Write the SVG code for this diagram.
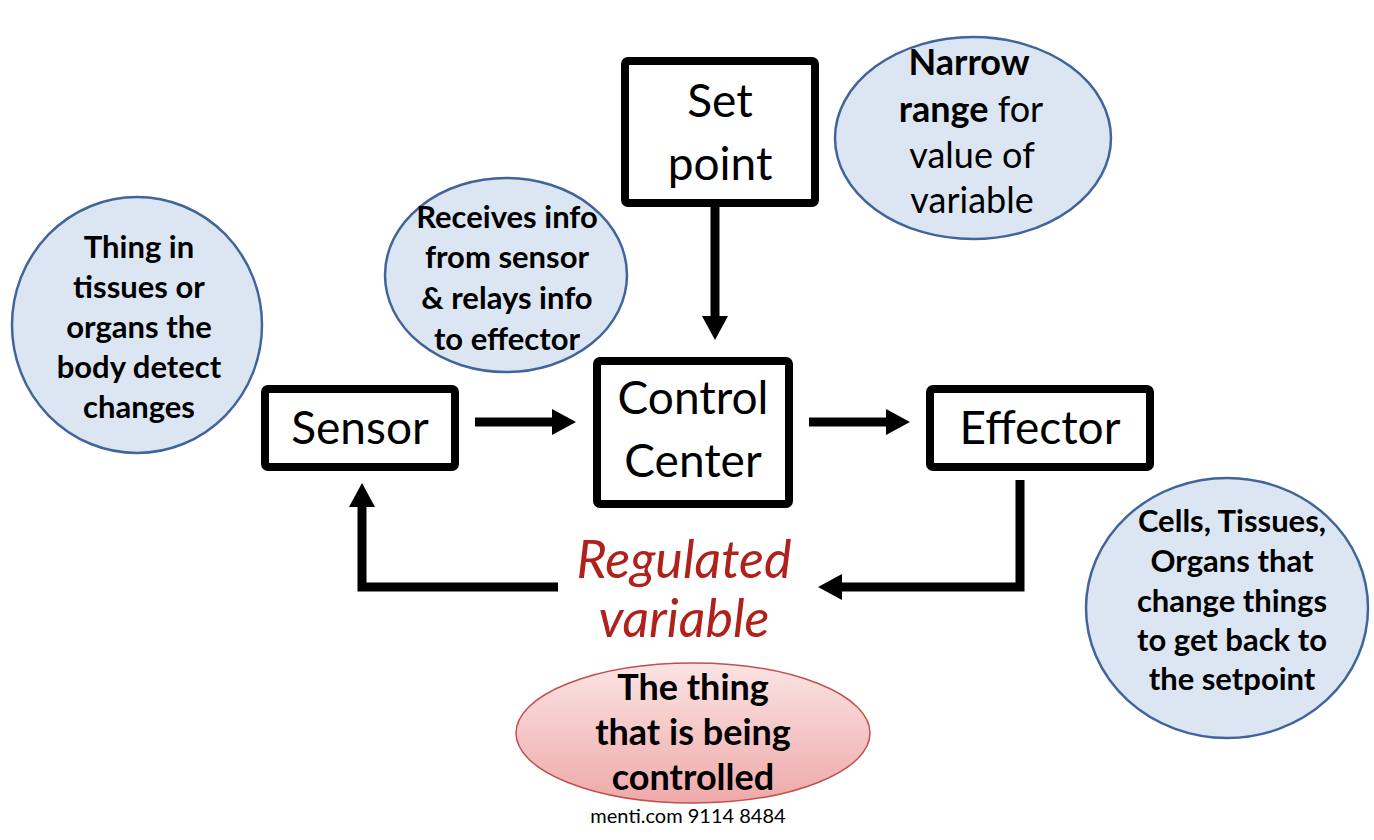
<svg xmlns="http://www.w3.org/2000/svg" width="1374" height="840" viewBox="0 0 1374 840">
<style>
.box{fill:#fff;stroke:#000;stroke-width:8}
.bt{font-family:Lato,"Liberation Sans",sans-serif;font-size:46px;fill:#000;text-anchor:middle}
.bub{fill:#dce6f2;stroke:#41649a;stroke-width:2.5}
.ct{font-family:Lato,"Liberation Sans",sans-serif;font-weight:bold;font-size:31px;fill:#000;text-anchor:middle}
.pt{font-family:Lato,"Liberation Sans",sans-serif;font-weight:bold;font-size:36px;fill:#000;text-anchor:middle}
.nt{font-family:Lato,"Liberation Sans",sans-serif;font-size:36px;fill:#000;text-anchor:middle}
.conn{fill:none;stroke:#000;stroke-width:9}
.red{font-family:Lato,"Liberation Sans",sans-serif;font-style:italic;font-size:52px;fill:#b0211b;text-anchor:middle}
</style>
<defs>
<marker id="ah" viewBox="0 0 24 26" refX="2" refY="13" markerWidth="24" markerHeight="26" orient="auto" markerUnits="userSpaceOnUse">
<polygon points="0,0 24,13 0,26" fill="#000"/>
</marker>
<linearGradient id="pink" x1="0" y1="0" x2="0" y2="1">
<stop offset="0" stop-color="#fbe4e4"/>
<stop offset="1" stop-color="#efa9a9"/>
</linearGradient>
</defs>
<rect width="1374" height="840" fill="#fff"/>

<g id="connectors">
<line class="conn" x1="715" y1="207" x2="715" y2="318" marker-end="url(#ah)"/>
<line class="conn" x1="475" y1="422" x2="554" y2="422" marker-end="url(#ah)"/>
<line class="conn" x1="809" y1="422" x2="888" y2="422" marker-end="url(#ah)"/>
<polyline class="conn" points="1020,480 1020,587 840,587" marker-end="url(#ah)"/>
<polyline class="conn" points="558,587 362,587 362,505" marker-end="url(#ah)"/>
</g>

<g id="setpoint">
<rect class="box" x="625" y="61" width="190" height="142" rx="3"/>
<text class="bt" x="720" y="117">Set</text>
<text class="bt" x="720" y="180">point</text>
</g>

<g id="control">
<rect class="box" x="597" y="361" width="192" height="143" rx="3"/>
<text class="bt" x="693" y="414">Control</text>
<text class="bt" x="693" y="477">Center</text>
</g>

<g id="sensor">
<rect class="box" x="265" y="389" width="190" height="78" rx="3"/>
<text class="bt" x="360" y="444">Sensor</text>
</g>

<g id="effector">
<rect class="box" x="930" y="389" width="220" height="78" rx="3"/>
<text class="bt" x="1040" y="444">Effector</text>
</g>

<g id="sensor-note">
<ellipse class="bub" cx="137" cy="325" rx="125" ry="128"/>
<text class="ct" x="139" y="258">Thing in</text>
<text class="ct" x="139" y="298">tissues or</text>
<text class="ct" x="139" y="338">organs the</text>
<text class="ct" x="139" y="378">body detect</text>
<text class="ct" x="139" y="418">changes</text>
</g>

<g id="control-note">
<ellipse class="bub" cx="506" cy="275" rx="121" ry="97"/>
<text class="ct" x="507" y="228">Receives info</text>
<text class="ct" x="507" y="268">from sensor</text>
<text class="ct" x="507" y="309">&amp; relays info</text>
<text class="ct" x="507" y="350">to effector</text>
</g>

<g id="setpoint-note">
<ellipse class="bub" cx="973" cy="138" rx="138" ry="101"/>
<text class="nt" x="969" y="75" font-weight="bold">Narrow</text>
<text class="nt" x="971" y="122"><tspan font-weight="bold">range</tspan> for</text>
<text class="nt" x="972" y="168">value of</text>
<text class="nt" x="972" y="213">variable</text>
</g>

<g id="effector-note">
<ellipse class="bub" cx="1227" cy="608" rx="141" ry="130"/>
<text class="ct" x="1232" y="532">Cells, Tissues,</text>
<text class="ct" x="1232" y="572">Organs that</text>
<text class="ct" x="1232" y="612">change things</text>
<text class="ct" x="1232" y="651">to get back to</text>
<text class="ct" x="1232" y="690">the setpoint</text>
</g>

<g id="regulated">
<text class="red" x="684" y="578">Regulated</text>
<text class="red" x="684" y="637">variable</text>
</g>

<g id="regulated-note">
<ellipse cx="693" cy="733" rx="177" ry="70" fill="url(#pink)" stroke="#c0504d" stroke-width="1.5"/>
<text class="pt" x="693" y="700">The thing</text>
<text class="pt" x="693" y="745">that is being</text>
<text class="pt" x="693" y="790">controlled</text>
</g>

<text x="688" y="823" font-family="Lato,'Liberation Sans',sans-serif" font-size="20" text-anchor="middle" fill="#000">menti.com 9114 8484</text>
</svg>
